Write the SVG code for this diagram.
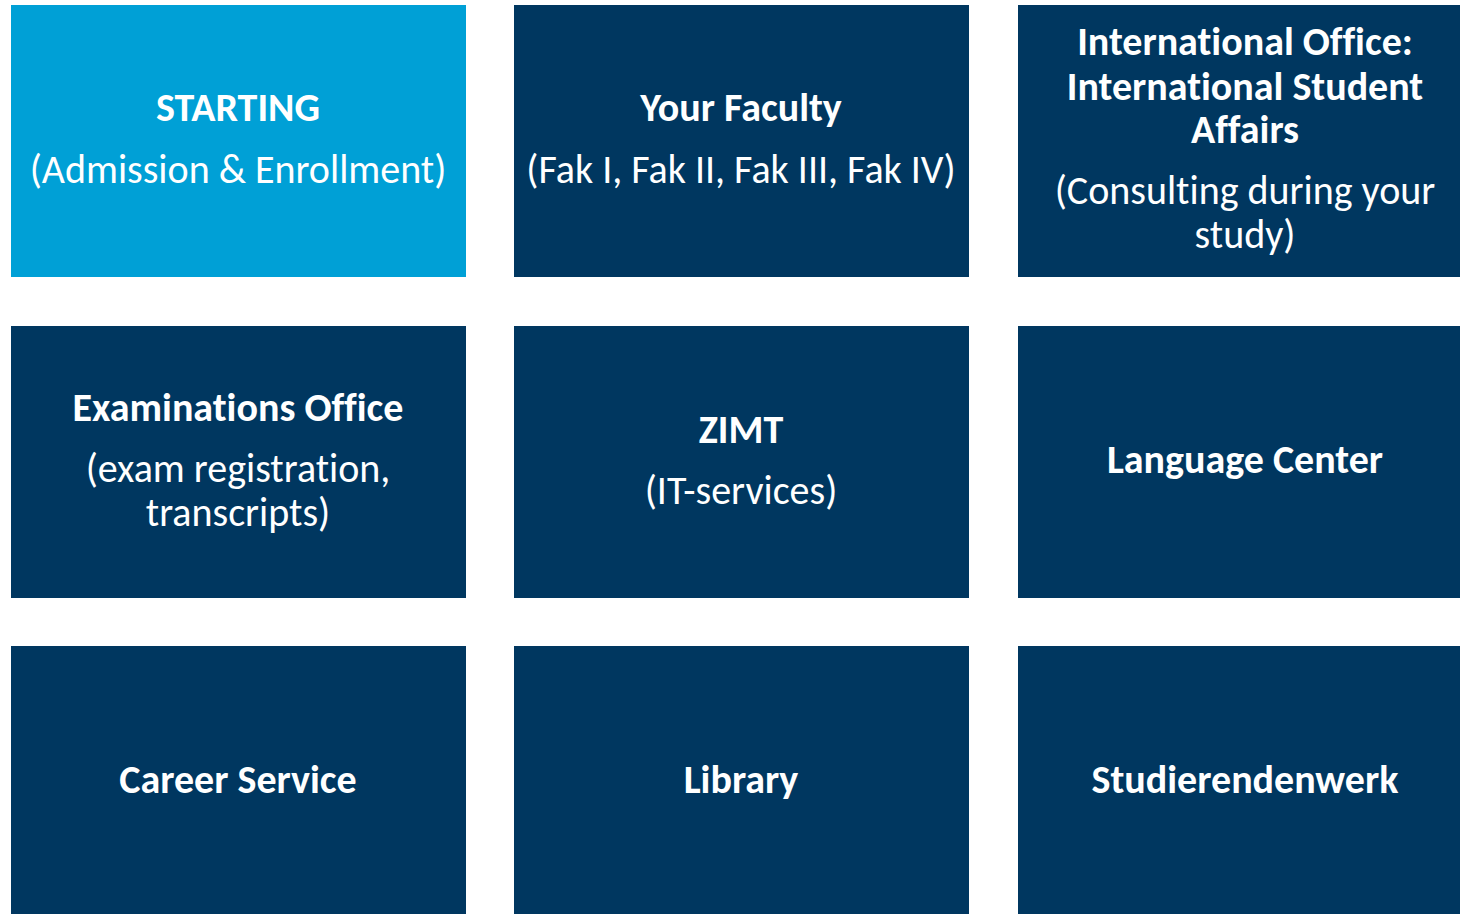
<svg xmlns="http://www.w3.org/2000/svg" width="1460" height="914" viewBox="0 0 1460 914">
<style>
.box{fill:#003760}
.start{fill:#00A0D6}
text{font-family:Carlito,Lato,"Open Sans",sans-serif;fill:#fff;text-anchor:middle;font-size:40px;font-variant-ligatures:none}
.b{font-weight:bold}
</style>
<rect width="1460" height="914" fill="#fff"/>
<g id="starting"><rect class="start" x="11" y="5" width="455" height="272"/><text class="b" x="238" y="121">STARTING</text><text x="238" y="183">(Admission &amp; Enrollment)</text></g>
<g id="faculty"><rect class="box" x="514" y="5" width="455" height="272"/><text class="b" x="741" y="121">Your Faculty</text><text x="741" y="183">(Fak I, Fak II, Fak III, Fak IV)</text></g>
<g id="international"><rect class="box" x="1018" y="5" width="455" height="272"/><text class="b" x="1245" y="55">International Office:</text><text class="b" x="1245" y="100">International Student</text><text class="b" x="1245" y="143">Affairs</text><text x="1245" y="204">(Consulting during your</text><text x="1245" y="248">study)</text></g>
<g id="exams"><rect class="box" x="11" y="326" width="455" height="272"/><text class="b" x="238" y="421">Examinations Office</text><text x="238" y="482">(exam registration,</text><text x="238" y="526">transcripts)</text></g>
<g id="zimt"><rect class="box" x="514" y="326" width="455" height="272"/><text class="b" x="741" y="443">ZIMT</text><text x="741" y="504">(IT-services)</text></g>
<g id="language"><rect class="box" x="1018" y="326" width="455" height="272"/><text class="b" x="1245" y="473">Language Center</text></g>
<g id="career"><rect class="box" x="11" y="646" width="455" height="272"/><text class="b" x="238" y="793">Career Service</text></g>
<g id="library"><rect class="box" x="514" y="646" width="455" height="272"/><text class="b" x="741" y="793">Library</text></g>
<g id="studierendenwerk"><rect class="box" x="1018" y="646" width="455" height="272"/><text class="b" x="1245" y="793">Studierendenwerk</text></g>
<g id="connectors"></g>
</svg>
